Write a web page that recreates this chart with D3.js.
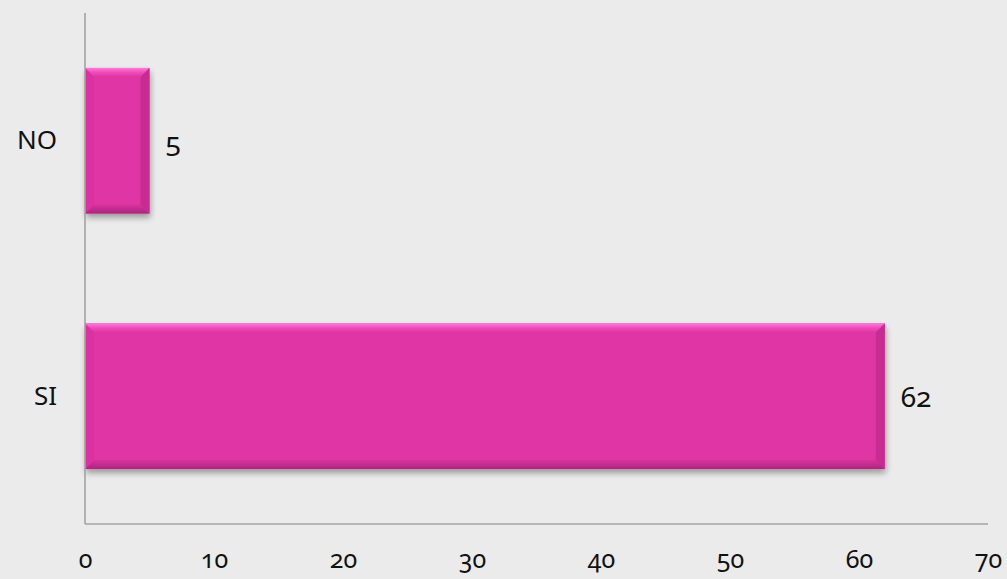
<!DOCTYPE html>
<html>
<head>
<meta charset="utf-8">
<script src="https://cdn.jsdelivr.net/npm/d3@7"></script>
<style>
  html, body { margin: 0; padding: 0; background: #ebebeb; }
  svg { display: block; }
  text { font-family: "Noto Sans", "Open Sans", sans-serif; fill: #111; font-variant-numeric: oldstyle-nums; }
</style>
</head>
<body>
<svg id="chart" width="1007" height="579"></svg>
<script>
// Survey answers and their counts
const categories = ["NO", "SI"];
const counts = [5, 62];
const xTicks = [0, 10, 20, 30, 40, 50, 60, 70];

const W = 1007, H = 579;
const margin = { left: 85, right: 19, top: 13, bottom: 55 };

const svg = d3.select("#chart");
svg.append("rect").attr("width", W).attr("height", H).attr("fill", "#ebebeb");

const x = d3.scaleLinear().domain([0, 70]).range([margin.left, W - margin.right]);
const y = d3.scaleBand().domain(categories).range([margin.top, H - margin.bottom]).paddingInner(0.43).paddingOuter(0.215);

const defs = svg.append("defs");
const shadow = defs.append("filter").attr("id", "shadow").attr("x", "-10%").attr("y", "-10%").attr("width", "120%").attr("height", "130%");
shadow.append("feGaussianBlur").attr("in", "SourceAlpha").attr("stdDeviation", 3);
shadow.append("feOffset").attr("dx", 1).attr("dy", 4).attr("result", "b");
shadow.append("feComponentTransfer").append("feFuncA").attr("type", "linear").attr("slope", 0.35);
const merge = shadow.append("feMerge");
merge.append("feMergeNode");
merge.append("feMergeNode").attr("in", "SourceGraphic");

const topGrad = defs.append("linearGradient").attr("id", "topGrad").attr("x1", 0).attr("x2", 0).attr("y1", 0).attr("y2", 1);
topGrad.append("stop").attr("offset", "0%").attr("stop-color", "#ff78dc");
topGrad.append("stop").attr("offset", "45%").attr("stop-color", "#f04fbd");
topGrad.append("stop").attr("offset", "100%").attr("stop-color", "#e034a4");
const botGrad = defs.append("linearGradient").attr("id", "botGrad").attr("x1", 0).attr("x2", 0).attr("y1", 0).attr("y2", 1);
botGrad.append("stop").attr("offset", "0%").attr("stop-color", "#da319f");
botGrad.append("stop").attr("offset", "100%").attr("stop-color", "#a8287c");

// Bars with a bevelled edge
const data = categories.map((c, i) => ({ c, v: counts[i] }));
const bev = 9;
const g = svg.append("g");
data.forEach(d => {
  const x0 = x(0), x1 = x(d.v), y0 = y(d.c), y1 = y(d.c) + y.bandwidth();
  const bar = g.append("g");
  bar.append("rect").attr("x", x0).attr("y", y0).attr("width", x1 - x0).attr("height", y1 - y0)
    .attr("fill", "#e034a4").attr("filter", "url(#shadow)");
  // top face
  bar.append("polygon").attr("points", [[x0, y0], [x1, y0], [x1 - bev, y0 + bev], [x0 + bev, y0 + bev]].join(" "))
    .attr("fill", "url(#topGrad)");
  // bottom face
  bar.append("polygon").attr("points", [[x0, y1], [x1, y1], [x1 - bev, y1 - bev], [x0 + bev, y1 - bev]].join(" "))
    .attr("fill", "url(#botGrad)");
  // left face
  bar.append("polygon").attr("points", [[x0, y0], [x0 + bev, y0 + bev], [x0 + bev, y1 - bev], [x0, y1]].join(" "))
    .attr("fill", "#dc319f");
  // right face
  bar.append("polygon").attr("points", [[x1, y0], [x1 - bev, y0 + bev], [x1 - bev, y1 - bev], [x1, y1]].join(" "))
    .attr("fill", "#c82c92");
  // value label
  svg.append("text").attr("x", x1 + 16).attr("y", (y0 + y1) / 2 + 11)
    .attr("font-size", 28).text(d.v);
});

// Axes
const axisColor = "#a3a3a3";
svg.append("line").attr("x1", x(0)).attr("x2", x(0)).attr("y1", margin.top).attr("y2", H - margin.bottom)
  .attr("stroke", axisColor).attr("stroke-width", 1.6);
svg.append("line").attr("x1", x(0)).attr("x2", x(70)).attr("y1", H - margin.bottom).attr("y2", H - margin.bottom)
  .attr("stroke", axisColor).attr("stroke-width", 1.6);

const xAxis = svg.append("g").attr("transform", `translate(0,${H - margin.bottom})`)
  .call(d3.axisBottom(x).tickValues(xTicks).tickSize(0).tickPadding(26));
xAxis.select(".domain").remove();
xAxis.selectAll("text").attr("font-size", 25).attr("fill", "#111");

const yAxis = svg.append("g").attr("transform", `translate(${x(0)},0)`)
  .call(d3.axisLeft(y).tickSize(0).tickPadding(28));
yAxis.select(".domain").remove();
yAxis.selectAll("text").attr("font-size", 26).attr("fill", "#111");
xAxis.attr("font-family", null);
yAxis.attr("font-family", null);
</script>
</body>
</html>
